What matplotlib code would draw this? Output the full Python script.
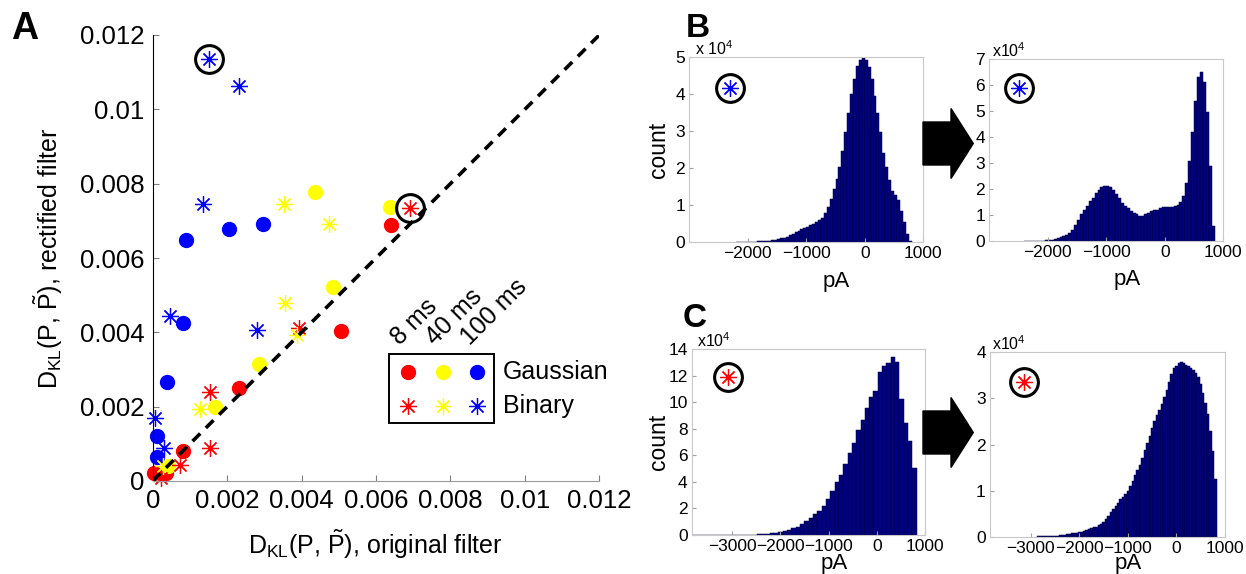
import matplotlib
matplotlib.use('Agg')
import matplotlib.pyplot as plt
import numpy as np
from matplotlib.patches import Polygon, Rectangle

plt.rcParams['font.family'] = ['Liberation Sans', 'DejaVu Sans']
plt.rcParams['mathtext.fontset'] = 'custom'
plt.rcParams['mathtext.rm'] = 'Liberation Sans'
plt.rcParams['mathtext.it'] = 'Liberation Sans:italic'
plt.rcParams['mathtext.bf'] = 'Liberation Sans:bold'

# ---------------- Panel A data (KL divergences) ----------------
gauss8_x = [0.00639, 0.00506, 0.00232, 0.00082, 0.00004, 0.00036]
gauss8_y = [0.00688, 0.00404, 0.00250, 0.00082, 0.00022, 0.00021]
gauss40_x = [0.00436, 0.00638, 0.00485, 0.00286, 0.00168, 0.00042]
gauss40_y = [0.00778, 0.00737, 0.00523, 0.00315, 0.00198, 0.00040]
gauss100_x = [0.00090, 0.00205, 0.00296, 0.00082, 0.00038, 0.00012, 0.00011]
gauss100_y = [0.00649, 0.00677, 0.00692, 0.00424, 0.00266, 0.00121, 0.00064]
binary8_x = [0.00691, 0.00394, 0.00154, 0.00154, 0.00074, 0.00021]
binary8_y = [0.00735, 0.00411, 0.00239, 0.00088, 0.00043, 0.00007]
binary40_x = [0.00354, 0.00475, 0.00355, 0.00387, 0.00127, 0.00028]
binary40_y = [0.00744, 0.00692, 0.00478, 0.00392, 0.00194, 0.00040]
binary100_x = [0.00152, 0.00233, 0.00134, 0.00047, 0.00281, 0.00006, 0.00030]
binary100_y = [0.01135, 0.01064, 0.00744, 0.00443, 0.00407, 0.00170, 0.00090]
a_ticks = [0, 0.002, 0.004, 0.006, 0.008, 0.01, 0.012]
a_ticklabels = ['0', '0.002', '0.004', '0.006', '0.008', '0.01', '0.012']
durations = ['8 ms', '40 ms', '100 ms']
stim_types = ['Gaussian', 'Binary']

# ---------------- Histogram data (counts in units of 1e4) ----------------
# B left: binary 100 ms, original filter (bins of 50 pA starting at -2200)
hB1_start, hB1_width = -2200, 50
hB1_counts = [0.0, 0.002, 0.003, 0.004, 0.006, 0.008, 0.01, 0.014, 0.018, 0.022,
              0.027, 0.038, 0.05, 0.063, 0.08, 0.097, 0.12, 0.145, 0.18, 0.22,
              0.26, 0.305, 0.34, 0.375, 0.41, 0.45, 0.49, 0.535, 0.59, 0.66,
              0.78, 0.96, 1.17, 1.43, 1.70, 2.02, 2.47, 2.98, 3.50, 4.00,
              4.42, 4.76, 4.92, 4.97, 4.94, 4.75, 4.40, 3.95, 3.50, 2.97,
              2.42, 2.03, 1.67, 1.38, 1.28, 1.13, 0.85, 0.53, 0.23, 0.03]
# B right: binary 100 ms, rectified filter
hB2_start, hB2_width = -2400, 50
hB2_counts = [0.003, 0.005, 0.007, 0.01, 0.015, 0.02, 0.028, 0.037, 0.048, 0.06,
              0.08, 0.11, 0.15, 0.19, 0.25, 0.33, 0.45, 0.63, 0.83, 1.04,
              1.22, 1.37, 1.53, 1.68, 1.85, 1.98, 2.08, 2.13, 2.14, 2.09,
              1.97, 1.83, 1.65, 1.48, 1.37, 1.27, 1.15, 1.08, 1.03, 0.98,
              0.96, 1.03, 1.10, 1.16, 1.19, 1.22, 1.27, 1.33, 1.33, 1.31,
              1.33, 1.35, 1.40, 1.50, 1.75, 2.25, 3.10, 4.20, 5.40, 6.30,
              6.50, 6.10, 4.95, 2.90, 0.60]
# C left: binary 8 ms, original filter (52 bins of ~89.6 pA)
hC1_start, hC1_width = -3832, 89.6
hC1_counts = [0.001, 0.001, 0.002, 0.002, 0.003, 0.003, 0.004, 0.005, 0.005, 0.006,
              0.007, 0.008, 0.01, 0.02, 0.03, 0.04, 0.06, 0.09, 0.13, 0.18,
              0.23, 0.30, 0.38, 0.50, 0.63, 0.83, 1.08, 1.26, 1.56, 1.83,
              2.21, 2.71, 3.34, 3.97, 4.52, 5.38, 6.16, 6.94, 7.92, 8.70,
              9.60, 10.43, 10.88, 12.26, 12.77, 12.94, 13.40, 13.02, 10.25, 8.42,
              7.11, 5.08]
# C right: binary 8 ms, rectified filter
hC2_start, hC2_width = -2875, 50
hC2_counts = [0.01, 0.01, 0.012, 0.014, 0.016, 0.018, 0.02, 0.023, 0.026, 0.03,
              0.036, 0.045, 0.055, 0.065, 0.072, 0.08, 0.087, 0.094, 0.11, 0.125,
              0.145, 0.16, 0.18, 0.20, 0.22, 0.245, 0.28, 0.32, 0.38, 0.45,
              0.53, 0.60, 0.67, 0.74, 0.81, 0.86, 0.93, 1.00, 1.09, 1.21,
              1.34, 1.45, 1.55, 1.70, 1.87, 2.03, 2.19, 2.35, 2.50, 2.63,
              2.75, 2.88, 3.02, 3.18, 3.35, 3.52, 3.65, 3.71, 3.76, 3.78,
              3.77, 3.73, 3.70, 3.66, 3.62, 3.55, 3.47, 3.32, 3.12, 2.90,
              2.66, 2.30, 1.85, 1.25]

RED, YEL, BLU = '#ff0000', '#ffff00', '#0000ff'
AST = (8, 2, 0)

W, H = 1246, 574
fig = plt.figure(figsize=(W / 100, H / 100), dpi=100)


def px_axes(l, t, r, b):
    return fig.add_axes([l / W, 1 - b / H, (r - l) / W, (b - t) / H])


# ---------------- Panel A ----------------
axA = px_axes(152.7, 35, 599.3, 481)
axA.set_xlim(0, 0.012)
axA.set_ylim(0, 0.012)
for s in ['top', 'right']:
    axA.spines[s].set_visible(False)
axA.spines['left'].set_color('black')
axA.spines['bottom'].set_color('#9a9a9a')
axA.set_xticks(a_ticks)
axA.set_xticklabels(a_ticklabels)
axA.set_yticks(a_ticks)
axA.set_yticklabels(a_ticklabels)
axA.tick_params(direction='in', length=4, color='#808080', labelsize=18.5, pad=6)

ms_c, ms_s = 10, 12
for xs, ys, c in [(gauss8_x, gauss8_y, RED), (gauss40_x, gauss40_y, YEL),
                  (gauss100_x, gauss100_y, BLU)]:
    axA.plot(xs, ys, 'o', color=c, ms=ms_c, mec=c, clip_on=False, zorder=2)
for xs, ys, c in [(binary8_x, binary8_y, RED), (binary40_x, binary40_y, YEL),
                  (binary100_x, binary100_y, BLU)]:
    axA.plot(xs, ys, marker=AST, ls='none', color=c, ms=ms_s, mew=0.9,
             clip_on=False, zorder=2)
axA.plot([0, 0.012], [0, 0.012], ls=(0, (3, 2.2)), color='black', lw=2.6, zorder=3)
# highlighted points
axA.plot([binary100_x[0], binary8_x[0]], [binary100_y[0], binary8_y[0]], 'o',
         mfc='none', mec='black', ms=20, mew=2.2, zorder=4)

# ---------------- Histograms ----------------
def hist_panel(rect, start, width, counts, ymax, xticks, xlim, mult_txt, mult_xy,
               marker_color, marker_xy):
    ax = px_axes(*rect)
    n = len(counts)
    edges = start + width * np.arange(n + 1)
    centers = 0.5 * (edges[:-1] + edges[1:])
    ax.hist(centers, bins=edges, weights=counts, color='#000080',
            edgecolor='#00003a', linewidth=0.35)
    ax.set_xlim(*xlim)
    ax.set_ylim(0, ymax)
    ax.set_xticks(xticks)
    ax.set_xticklabels([('\u2212' + str(-t)) if t < 0 else str(t) for t in xticks])
    ax.set_yticks(range(0, ymax + 1, 2 if ymax > 10 else 1))
    for s in ax.spines.values():
        s.set_color('#c8c8c8')
    ax.tick_params(direction='in', length=3, color='#a0a0a0', labelsize=12.5, pad=3)
    ax.text(mult_xy[0], mult_xy[1], mult_txt, transform=ax.transAxes,
            fontsize=11.5, ha='left', va='baseline')
    ax.plot([marker_xy[0]], [marker_xy[1]], marker=AST, color=marker_color,
            ms=12, mew=0.9, transform=ax.transAxes, clip_on=False)
    ax.plot([marker_xy[0]], [marker_xy[1]], 'o', mfc='none', mec='black', ms=20,
            mew=2.2, transform=ax.transAxes, clip_on=False)
    return ax


axB1 = hist_panel((689.3, 57.3, 923.3, 242), hB1_start, hB1_width, hB1_counts, 5,
                  [-2000, -1000, 0, 1000], (-3000, 1000), 'x 10$^{4}$',
                  (0.025, 1.01), BLU, (0.174, 0.832))
axB2 = hist_panel((989.3, 59, 1223.3, 241.3), hB2_start, hB2_width, hB2_counts, 7,
                  [-2000, -1000, 0, 1000], (-3000, 1000), 'x10$^{4}$',
                  (0.01, 1.01), BLU, (0.128, 0.839))
axC1 = hist_panel((691.7, 349.3, 925, 535), hC1_start, hC1_width, hC1_counts, 14,
                  [-3000, -2000, -1000, 0, 1000], (-3840, 1000), 'x10$^{4}$',
                  (0.022, 1.01), RED, (0.154, 0.849))
axC2 = hist_panel((990, 352.3, 1225, 536.7), hC2_start, hC2_width, hC2_counts, 4,
                  [-3000, -2000, -1000, 0, 1000], (-3840, 1000), 'x10$^{4}$',
                  (0.01, 1.01), RED, (0.146, 0.841))

# ---------------- Overlay (pixel coordinates) ----------------
ov = fig.add_axes([0, 0, 1, 1], zorder=10)
ov.set_xlim(0, W)
ov.set_ylim(H, 0)
ov.axis('off')
ov.patch.set_alpha(0)

# panel letters
ov.text(24.5, 39, 'A', fontsize=27, fontweight='bold', ha='center', va='baseline')
ov.text(697.5, 37, 'B', fontsize=24, fontweight='bold', ha='center', va='baseline')
ov.text(695, 327, 'C', fontsize=24, fontweight='bold', ha='center', va='baseline')

# panel A axis labels
ov.text(375, 554, r'D$_{\mathrm{KL}}$(P, $\tilde{\mathrm{P}}$), original filter',
        fontsize=18, ha='center', va='baseline')
ov.text(48, 258, r'D$_{\mathrm{KL}}$(P, $\tilde{\mathrm{P}}$), rectified filter',
        fontsize=18, ha='center', va='center', rotation=90)

# histogram axis labels
for (x, y) in [(836, 281), (1127, 280), (834, 564), (1128, 564)]:
    ov.text(x, y, 'pA', fontsize=16, ha='center', va='center')
for (x, y) in [(659, 150), (659, 442)]:
    ov.text(x, y, 'count', fontsize=16.5, ha='center', va='center', rotation=90)

# arrows
for (yc, half_body, half_head) in [(143.5, 21.5, 35), (432.5, 21.5, 35)]:
    pts = [(923, yc - half_body), (951, yc - half_body), (951, yc - half_head),
           (973.3, yc), (951, yc + half_head), (951, yc + half_body),
           (923, yc + half_body)]
    ov.add_patch(Polygon(pts, closed=True, color='black'))

# legend
ov.add_patch(Rectangle((389.3, 354), 104.7, 69.3, fill=False, ec='black', lw=1.4))
leg_x = [407.7, 442.7, 477.3]
for lx, c in zip(leg_x, [RED, YEL, BLU]):
    ov.plot([lx], [372.3], 'o', color=c, ms=ms_c)
    ov.plot([lx], [406], marker=AST, color=c, ms=ms_s, mew=0.9)
for lab, y in zip(stim_types, [372.3, 406]):
    ov.text(503, y, lab, fontsize=18, ha='left', va='center')
for lab, (x, y) in zip(durations, [(400, 346), (435, 346), (470, 346)]):
    ov.text(x, y, lab, fontsize=18, ha='left', va='baseline', rotation=45,
            rotation_mode='anchor')

fig.savefig('out.png', dpi=100)
